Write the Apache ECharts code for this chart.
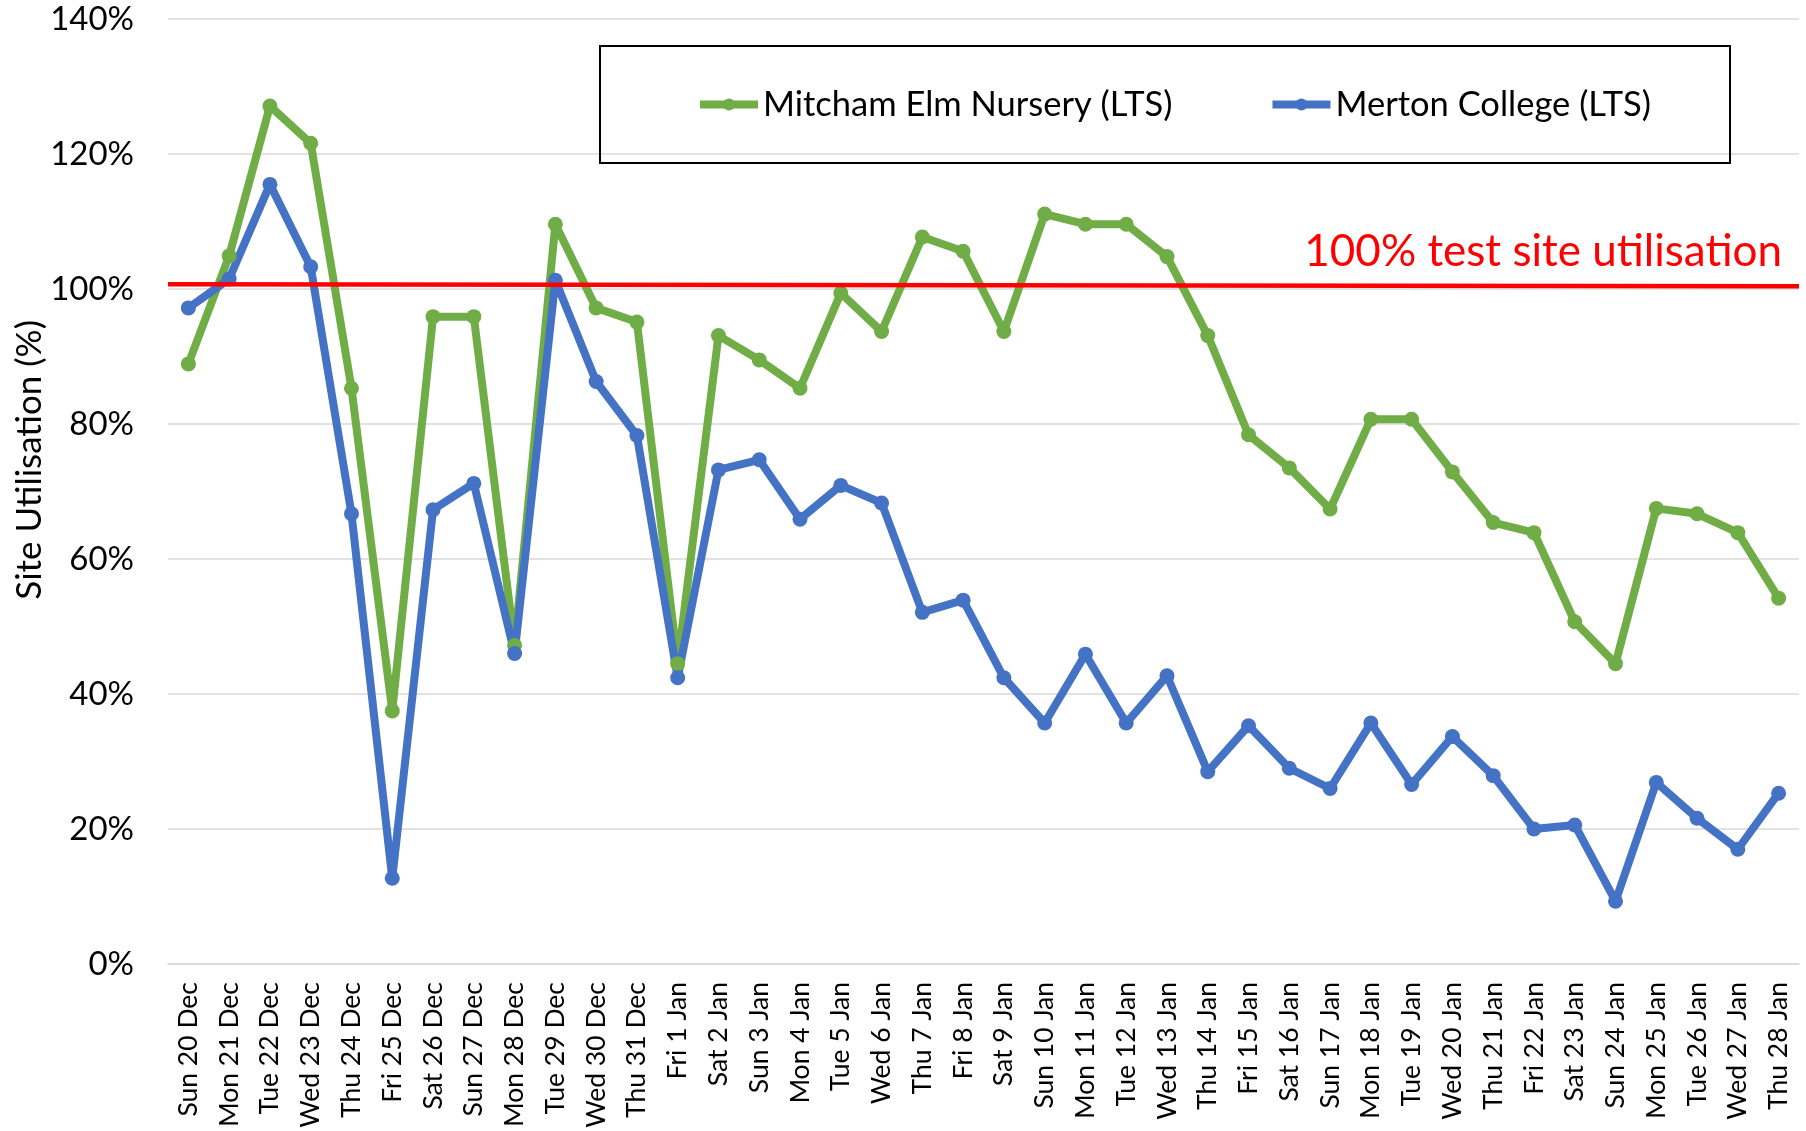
<!DOCTYPE html>
<html>
<head>
<meta charset="utf-8">
<script src="https://cdn.jsdelivr.net/npm/echarts@6/dist/echarts.min.js"></script>
<style>
    html, body { margin: 0; padding: 0; background: #fff; }
    .container { width: 1806px; height: 1131px; }
</style>
</head>
<body>
<div class="container"></div>
<script>
const days = ['Sun 20 Dec', 'Mon 21 Dec', 'Tue 22 Dec', 'Wed 23 Dec', 'Thu 24 Dec', 'Fri 25 Dec', 'Sat 26 Dec',
    'Sun 27 Dec', 'Mon 28 Dec', 'Tue 29 Dec', 'Wed 30 Dec', 'Thu 31 Dec', 'Fri 1 Jan', 'Sat 2 Jan', 'Sun 3 Jan',
    'Mon 4 Jan', 'Tue 5 Jan', 'Wed 6 Jan', 'Thu 7 Jan', 'Fri 8 Jan', 'Sat 9 Jan', 'Sun 10 Jan', 'Mon 11 Jan',
    'Tue 12 Jan', 'Wed 13 Jan', 'Thu 14 Jan', 'Fri 15 Jan', 'Sat 16 Jan', 'Sun 17 Jan', 'Mon 18 Jan', 'Tue 19 Jan',
    'Wed 20 Jan', 'Thu 21 Jan', 'Fri 22 Jan', 'Sat 23 Jan', 'Sun 24 Jan', 'Mon 25 Jan', 'Tue 26 Jan', 'Wed 27 Jan',
    'Thu 28 Jan'];

const mitcham = [88.9, 104.9, 127.1, 121.6, 85.3, 37.5, 95.9, 95.9, 47.2, 109.6, 97.2, 95.1, 44.5, 93.1, 89.5,
    85.3, 99.4, 93.7, 107.7, 105.6, 93.7, 111.1, 109.6, 109.6, 104.8, 93.1, 78.4, 73.5, 67.4, 80.7, 80.7,
    72.9, 65.4, 63.9, 50.7, 44.5, 67.5, 66.7, 63.9, 54.2];

const merton = [97.2, 101.5, 115.5, 103.3, 66.7, 12.7, 67.3, 71.2, 46.0, 101.3, 86.3, 78.3, 42.4, 73.2, 74.7,
    65.9, 70.9, 68.3, 52.1, 53.9, 42.4, 35.7, 45.9, 35.7, 42.7, 28.5, 35.3, 29.0, 26.0, 35.7, 26.6,
    33.7, 27.9, 20.0, 20.6, 9.3, 26.9, 21.6, 17.0, 25.3];

// hand drawn 100% line, runs across the plot from left to right edge
const thresholdLine = [[0, 100.7], [1, 100.4]];

const yTicks = { min: 0, max: 140, interval: 20 };

const FONT = 'Lato';

(function () {
    let myChart = echarts.init(document.querySelector('.container'));

    const option = {
        animation: false,
        textStyle: { fontFamily: FONT },
        grid: {
            left: 168,
            right: 7,
            top: 19,
            bottom: 167
        },
        legend: {
            data: ['Mitcham Elm Nursery (LTS)', 'Merton College (LTS)'],
            left: 600,
            top: 46,
            padding: [41, 79, 41, 96],
            itemGap: 96,
            itemWidth: 58,
            itemHeight: 15,
            borderColor: '#000',
            borderWidth: 2,
            lineStyle: { width: 8 },
            textStyle: {
                color: '#000',
                fontSize: 34.5,
                fontFamily: FONT
            }
        },
        xAxis: [
            {
                type: 'category',
                data: days,
                axisTick: { show: false },
                axisLine: {
                    lineStyle: { color: '#d9d9d9', width: 1.5 }
                },
                axisLabel: {
                    rotate: 90,
                    interval: 0,
                    margin: 18,
                    color: '#000',
                    fontSize: 26.5,
                    fontFamily: FONT
                }
            },
            {
                type: 'value',
                min: 0,
                max: 1,
                show: false
            }
        ],
        yAxis: {
            type: 'value',
            min: yTicks.min,
            max: yTicks.max,
            interval: yTicks.interval,
            axisLine: { show: false },
            axisTick: { show: false },
            axisLabel: {
                formatter: '{value}%',
                color: '#000',
                fontSize: 33,
                margin: 34,
                fontFamily: FONT
            },
            splitLine: {
                lineStyle: { color: '#d9d9d9', width: 1.5 }
            }
        },
        series: [
            {
                name: 'Mitcham Elm Nursery (LTS)',
                type: 'line',
                data: mitcham,
                color: '#70AD47',
                symbol: 'circle',
                symbolSize: 15,
                lineStyle: { width: 8 }
            },
            {
                name: 'Merton College (LTS)',
                type: 'line',
                data: merton,
                color: '#4472C4',
                symbol: 'circle',
                symbolSize: 15,
                lineStyle: { width: 8 }
            },
            {
                name: 'threshold',
                type: 'line',
                xAxisIndex: 1,
                data: thresholdLine,
                symbol: 'none',
                z: 5,
                lineStyle: { color: '#ff0000', width: 4.5 }
            }
        ],
        graphic: [
            {
                type: 'text',
                right: 24,
                top: 230,
                style: {
                    text: '100% test site utilisation',
                    fill: '#ff0000',
                    fontSize: 44,
                    fontFamily: FONT
                }
            },
            {
                type: 'text',
                left: 12,
                top: 320,
                rotation: Math.PI / 2,
                style: {
                    text: 'Site Utilisation (%)',
                    fill: '#000',
                    fontSize: 35,
                    fontFamily: FONT
                }
            }
        ]
    };

    myChart.setOption(option);
})();
</script>
</body>
</html>
